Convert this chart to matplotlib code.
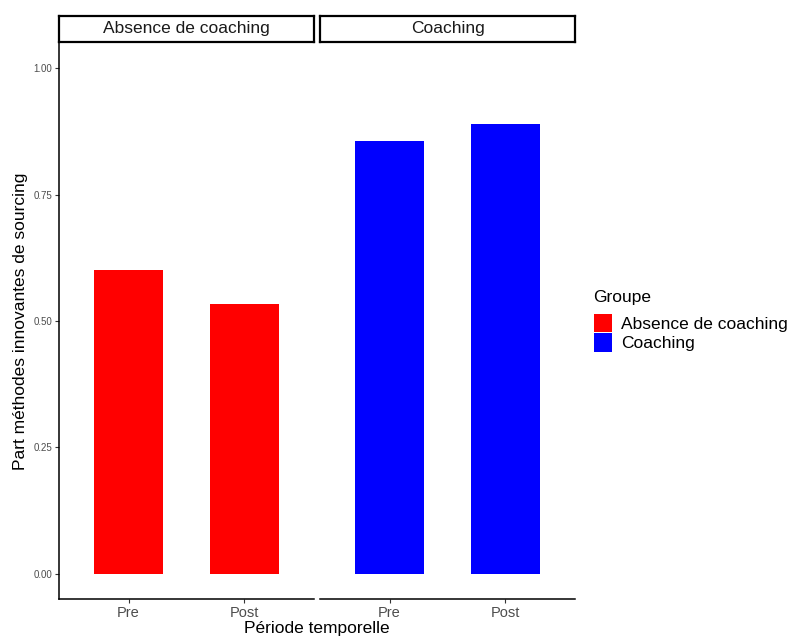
"""Bar chart facetted by group: share of innovative sourcing methods, pre/post."""

import matplotlib

matplotlib.use("Agg")
import matplotlib.pyplot as plt
from matplotlib.patches import Patch

plt.rcParams["font.family"] = ["Liberation Sans", "DejaVu Sans"]

# data
groups = ["Absence de coaching", "Coaching"]
periods = ["Pre", "Post"]
share_absence = [0.600, 0.533]
share_coaching = [0.857, 0.889]
group_colors = ["#FF0000", "#0000FF"]
y_ticks = [0.00, 0.25, 0.50, 0.75, 1.00]

W, H = 793, 639
fig = plt.figure(figsize=(W / 100, H / 100), dpi=100)


def px_box(x0, y0, x1, y1):
    """Pixel box (top-left origin) -> figure fraction rect."""
    return [x0 / W, 1 - y1 / H, (x1 - x0) / W, (y1 - y0) / H]


panels = [(59, 314), (320, 575)]
values = [share_absence, share_coaching]
tick_grey = "#4D4D4D"

for i, ((x0, x1), vals) in enumerate(zip(panels, values)):
    ax = fig.add_axes(px_box(x0, 43, x1, 599))
    ax.bar(range(len(periods)), vals, width=0.6, color=group_colors[i])
    ax.set_xlim(-0.6, len(periods) - 0.4)
    ax.set_ylim(-0.05, 1.05)
    ax.set_xticks(range(len(periods)))
    ax.set_xticklabels(periods, fontsize=10.5, color=tick_grey)
    ax.tick_params(axis="x", length=3, width=0.8, color="#333333", pad=2)
    for s in ("top", "right"):
        ax.spines[s].set_visible(False)
    ax.spines["bottom"].set_linewidth(1.1)
    if i == 0:
        ax.set_yticks(y_ticks)
        ax.set_yticklabels([f"{v:.2f}" for v in y_ticks], fontsize=7, color=tick_grey)
        ax.tick_params(axis="y", length=3, width=0.8, color="#333333", pad=2)
        ax.spines["left"].set_linewidth(1.1)
    else:
        ax.spines["left"].set_visible(False)
        ax.set_yticks([])

    # facet strip
    sx = fig.add_axes(px_box(x0, 16, x1, 42))
    sx.set_xticks([])
    sx.set_yticks([])
    for s in sx.spines.values():
        s.set_linewidth(1.6)
    sx.text(0.5, 0.5, groups[i], ha="center", va="center",
            fontsize=12.5, color="#1A1A1A", transform=sx.transAxes)

fig.text(317 / W, 1 - 629 / H, "Période temporelle", ha="center", va="center",
         fontsize=12.5)
fig.text(21 / W, 1 - 321 / H, "Part méthodes innovantes de sourcing",
         ha="center", va="center", rotation=90, fontsize=12.5)

# legend (title placed separately to match ggplot spacing)
fig.text(593 / W, 1 - 297 / H, "Groupe", ha="left", va="center", fontsize=12.5)
handles = [Patch(facecolor=c, edgecolor="none") for c in group_colors]
leg = fig.legend(handles, groups, loc="upper left",
                 bbox_to_anchor=(594 / W, 1 - 314 / H), frameon=False,
                 fontsize=12.5, borderaxespad=0, borderpad=0,
                 handlelength=1.04, handleheight=1.25, handletextpad=0.52,
                 labelspacing=0.06)

fig.savefig("out.png", dpi=100)
plt.close(fig)
